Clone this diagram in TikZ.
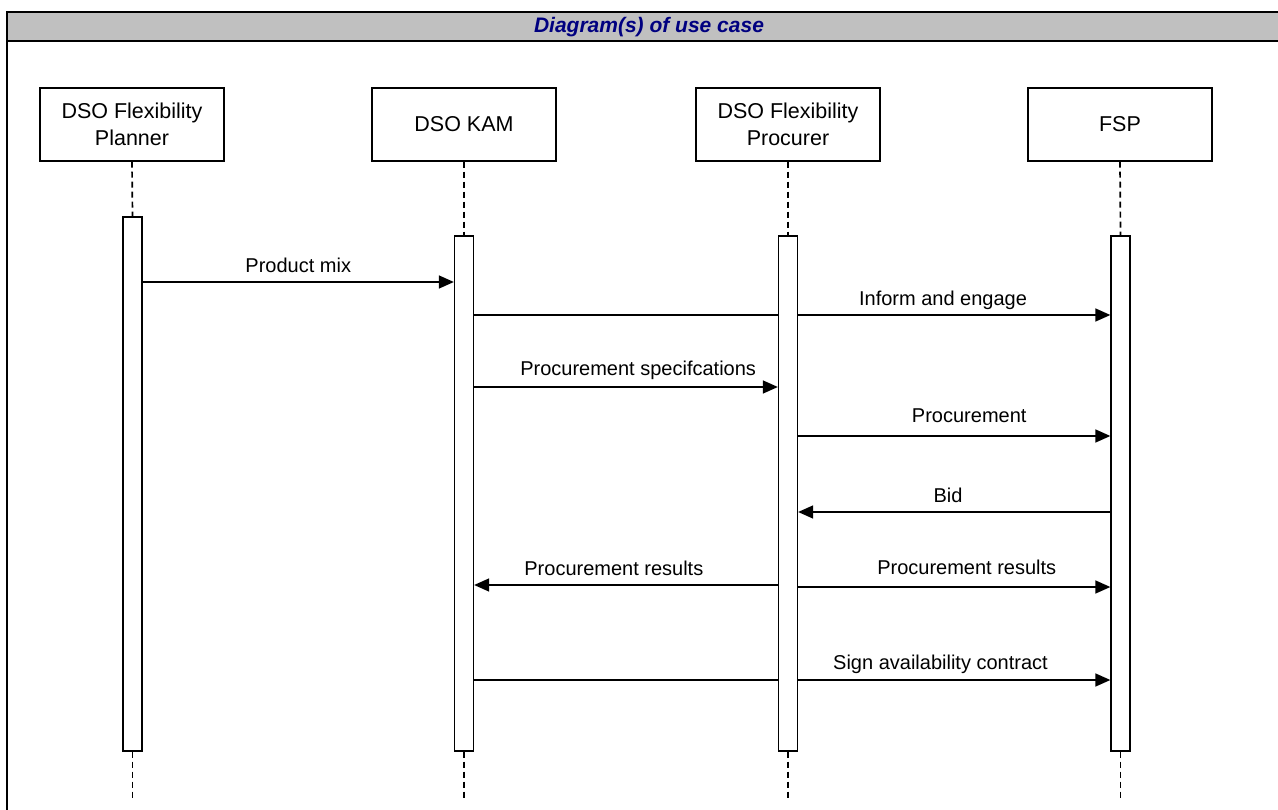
\documentclass[tikz,border=0pt]{standalone}
\usepackage{fontspec}
\setmainfont{Liberation Sans}
\usetikzlibrary{arrows.meta}
\definecolor{headergray}{HTML}{C0C0C0}
\definecolor{titlenavy}{HTML}{000080}
\pgfdeclarelayer{back}
\pgfsetlayers{back,main}

\begin{document}
\begin{tikzpicture}[x=1pt,y=-1pt,
  actor/.style={draw, line width=1.3pt, fill=white, minimum width=184pt,
    minimum height=73pt, inner sep=0pt, align=center,
    font=\fontsize{21.5}{27}\selectfont},
  activation/.style={draw, line width=1.3pt, fill=white, minimum width=19pt, inner sep=0pt},
  lifeline/.style={line width=1.7pt, dash pattern=on 6pt off 4pt},
  msg/.style={line width=1.5pt, -{Triangle[length=15pt,width=13pt]}},
  msglabel/.style={anchor=base, yshift=9.5pt, inner sep=0pt,
    font=\fontsize{20}{24}\selectfont},
  frameline/.style={line width=2pt},
]
\useasboundingbox (0,0) rectangle (1278,810);

% header band and frame
\fill[headergray] (7,12) rectangle (1290,41);
\draw[frameline] (7,830) -- (7,12) -- (1290,12);
\draw[frameline] (7,41) -- (1290,41);
\node[font=\bfseries\itshape\fontsize{21}{25}\selectfont, text=titlenavy] (title) at (649,27) {Diagram(s) of use case};

% participants
\node[actor] (planner) at (132,124.5) {DSO Flexibility\\Planner};
\node[actor] (kam) at (464,124.5) {DSO KAM};
\node[actor] (procurer) at (788,124.5) {DSO Flexibility\\Procurer};
\node[actor] (fsp) at (1120,124.5) {FSP};

% activation bars
\node[activation, minimum height=534pt] (pb) at (132.5,484) {};
\node[activation, minimum height=515pt] (kb) at (464,493.5) {};
\node[activation, minimum height=515pt] (cb) at (788,493.5) {};
\node[activation, minimum height=515pt] (fb) at (1120.5,493.5) {};

% lifeline ends
\coordinate (pe) at (pb.south |- 0,800);
\coordinate (ke) at (kb.south |- 0,800);
\coordinate (ce) at (cb.south |- 0,800);
\coordinate (fe) at (fb.south |- 0,800);

% lifelines
\draw[lifeline] (planner.south) -- (pb.north);
\draw[lifeline] (kam.south) -- (kb.north);
\draw[lifeline] (procurer.south) -- (cb.north);
\draw[lifeline] (fsp.south) -- (fb.north);
\draw[lifeline] (pb.south) -- (pe);
\draw[lifeline] (kb.south) -- (ke);
\draw[lifeline] (cb.south) -- (ce);
\draw[lifeline] (fb.south) -- (fe);

% messages
\begin{pgfonlayer}{back}
\draw[msg] (pb.east |- 0,282) -- node[msglabel, pos=.5] {Product mix} (kb.west |- 0,282);
\draw[msg] (kb.east |- 0,315) -- node[msglabel, pos=.737] {Inform and engage} (fb.west |- 0,315);
\draw[msg] (kb.east |- 0,387) -- node[msglabel, pos=.54, yshift=1.5pt] {Procurement specifcations} (cb.west |- 0,387);
\draw[msg] (cb.east |- 0,436) -- node[msglabel, pos=.548, yshift=3.5pt] {Procurement} (fb.west |- 0,436);
\draw[msg] (fb.west |- 0,512) -- node[msglabel, pos=.52] {Bid} (cb.east |- 0,512);
\draw[msg] (cb.west |- 0,585) -- node[msglabel, pos=.54] {Procurement results} (kb.east |- 0,585);
\draw[msg] (cb.east |- 0,587) -- node[msglabel, pos=.54, yshift=3pt] {Procurement results} (fb.west |- 0,587);
\draw[msg] (kb.east |- 0,680) -- node[msglabel, pos=.733, yshift=1.5pt] {Sign availability contract} (fb.west |- 0,680);
\end{pgfonlayer}
\end{tikzpicture}
\end{document}
